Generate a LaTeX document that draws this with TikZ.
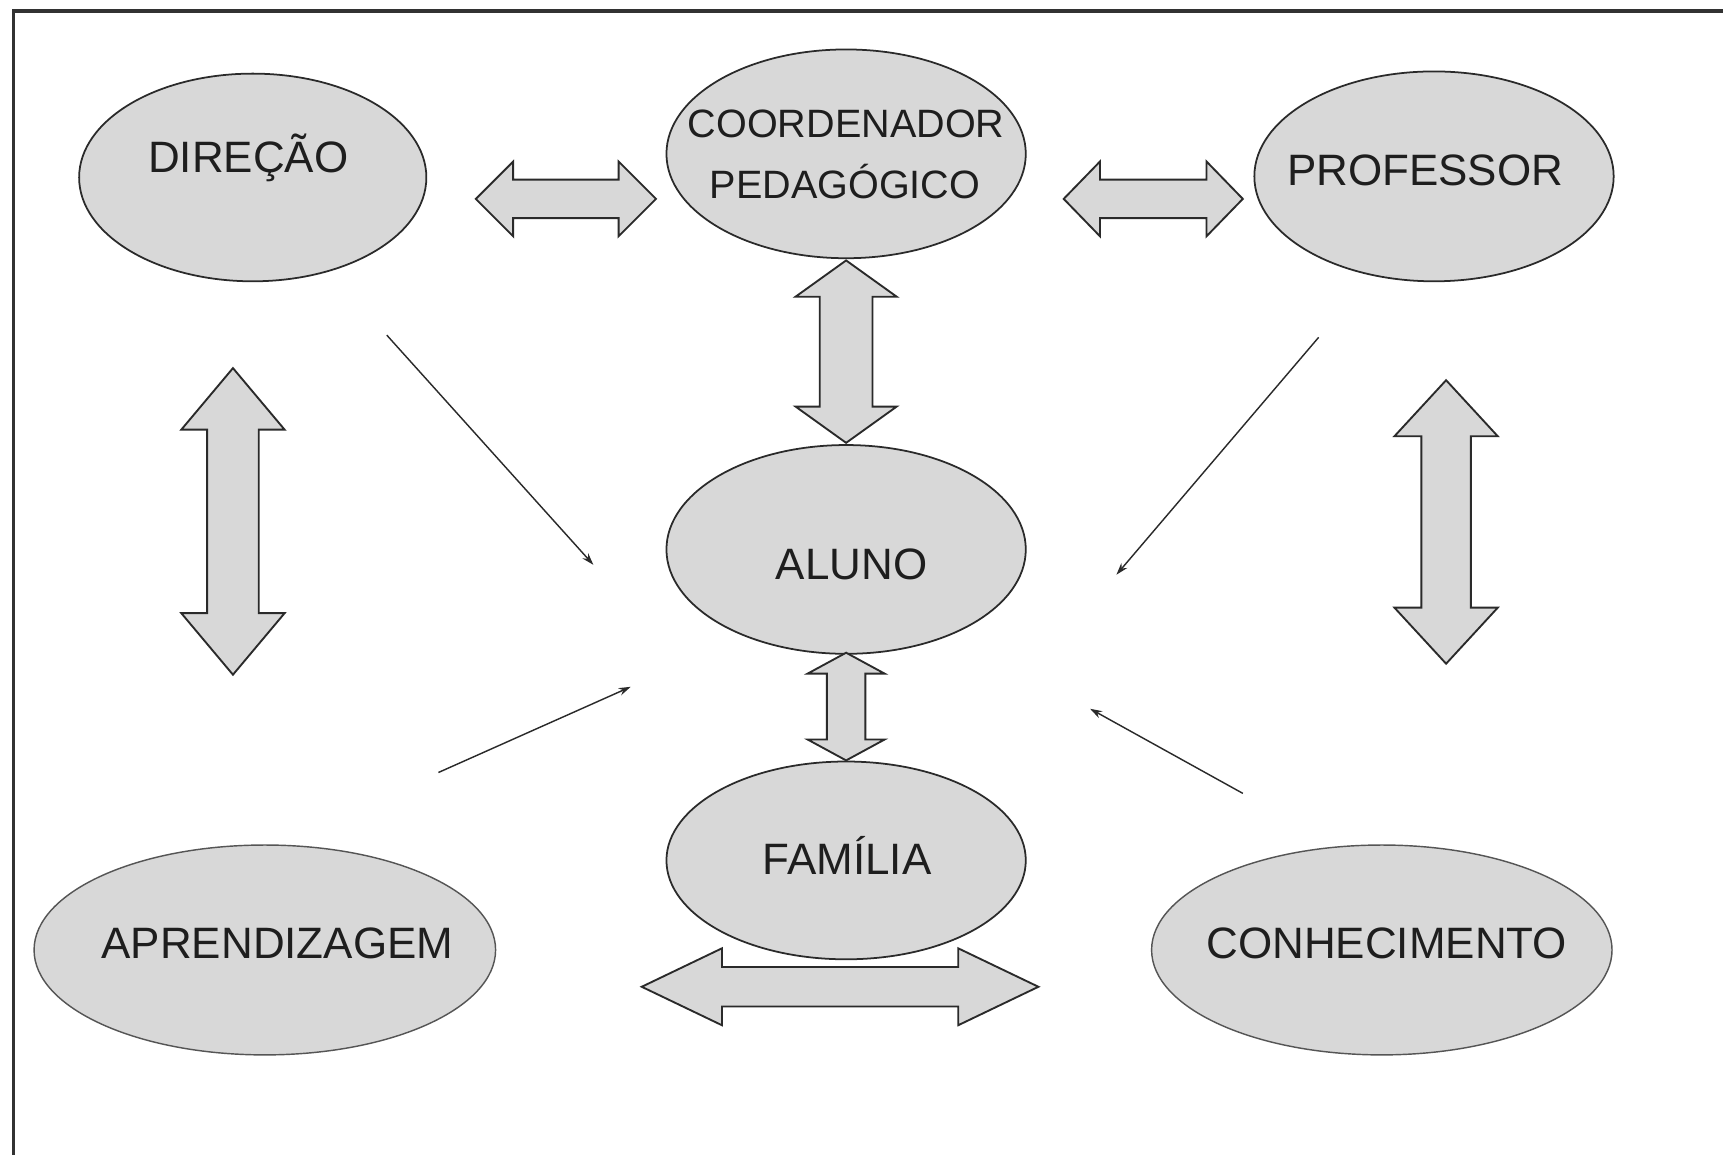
\documentclass[tikz,border=0pt]{standalone}
\usepackage{fontspec}
\setmainfont{Liberation Sans}
\usetikzlibrary{shapes.geometric,arrows.meta}
\definecolor{fillg}{RGB}{216,216,216}
\definecolor{edgec}{RGB}{42,42,42}
\definecolor{softedge}{RGB}{85,85,85}
\definecolor{txt}{RGB}{30,30,30}
\definecolor{framec}{RGB}{50,50,50}
\tikzset{
  ell/.style={ellipse, draw=edgec, fill=fillg, line width=1.6pt, inner sep=0pt},
  ellsoft/.style={ell, draw=softedge, line width=1.3pt},
  lbl/.style={anchor=base, text=txt, font=\fontsize{40}{48}\selectfont, inner sep=0pt},
  lblsm/.style={lbl, font=\fontsize{36}{43}\selectfont},
  blk/.style={draw=edgec, fill=fillg, line width=1.7pt, line join=miter},
  thinarr/.style={draw=edgec, line width=1.3pt, -{Stealth[length=11pt,width=7pt]}},
  framel/.style={draw=framec, line width=2.8pt},
}
% horizontal double block arrow: x1, x2, yc, head length, half head, half shaft
\newcommand{\blockH}[6]{%
  \draw[blk] (#1,#3) -- (#1+#4,#3-#5) -- (#1+#4,#3-#6) -- (#2-#4,#3-#6) -- (#2-#4,#3-#5) -- (#2,#3)
     -- (#2-#4,#3+#5) -- (#2-#4,#3+#6) -- (#1+#4,#3+#6) -- (#1+#4,#3+#5) -- cycle;}
% vertical double block arrow: y1, y2, xc, head length, half head, half shaft
\newcommand{\blockV}[6]{%
  \draw[blk] (#3,#1) -- (#3+#5,#1+#4) -- (#3+#6,#1+#4) -- (#3+#6,#2-#4) -- (#3+#5,#2-#4) -- (#3,#2)
     -- (#3-#5,#2-#4) -- (#3-#6,#2-#4) -- (#3-#6,#1+#4) -- (#3-#5,#1+#4) -- cycle;}
\begin{document}
\begin{tikzpicture}[x=1pt,y=-1pt]
\useasboundingbox (0,0) rectangle (1568,1051);
\fill[white] (0,0) rectangle (1568,1051);
% frame (only top and left edges are visible)
\draw[framel] (12,1051) -- (12,10) -- (1568,10);

% ellipses
\node[ell, minimum width=316pt, minimum height=189pt] (dir) at (230,161.5) {};
\node[ell, minimum width=327pt, minimum height=190pt] (coord) at (770,140) {};
\node[ell, minimum width=327pt, minimum height=191pt] (prof) at (1305,160.5) {};
\node[ell, minimum width=327pt, minimum height=190pt] (aluno) at (770,500) {};
\node[ell, minimum width=327pt, minimum height=180pt] (fam) at (770,783) {};
\node[ellsoft, minimum width=420pt, minimum height=191pt] (apr) at (241,864.5) {};
\node[ellsoft, minimum width=419pt, minimum height=191pt] (con) at (1257.5,864.5) {};

% labels
\node[lbl] (dirT) at (226,157) {DIREÇÃO};
\node[lblsm] (coordT1) at (770,125) {COORDENADOR};
\node[lblsm] (coordT2) at (769,181) {PEDAGÓGICO};
\node[lbl] (profT) at (1297,169) {PROFESSOR};
\node[lbl] (alunoT) at (775,527) {ALUNO};
\node[lbl] (famT) at (771,796) {FAMÍLIA};
\node[lbl] (aprT) at (252.5,872) {APRENDIZAGEM};
\node[lbl] (conT) at (1262,872) {CONHECIMENTO};

% block double arrows
\blockH{433}{597}{181}{34}{34}{17.5}
\blockH{968}{1131}{181}{33}{34}{17.5}
\blockV{237}{403}{770}{33}{46}{24}
\blockV{335}{614}{212}{56}{47}{23.5}
\blockV{346}{604}{1316}{51}{47}{22.5}
\blockV{594}{692}{770}{19}{35}{17.5}
\blockH{584}{945}{898}{73}{35}{18}

% thin arrows toward ALUNO
\coordinate (t1s) at (352,305);  \coordinate (t1e) at (540,514);
\coordinate (t2s) at (1200,307); \coordinate (t2e) at (1016,523);
\coordinate (t3s) at (399,703);  \coordinate (t3e) at (574,625);
\coordinate (t4s) at (1131,722); \coordinate (t4e) at (992,645);
\draw[thinarr] (t1s) -- (t1e);
\draw[thinarr] (t2s) -- (t2e);
\draw[thinarr] (t3s) -- (t3e);
\draw[thinarr] (t4s) -- (t4e);
\end{tikzpicture}
\end{document}
